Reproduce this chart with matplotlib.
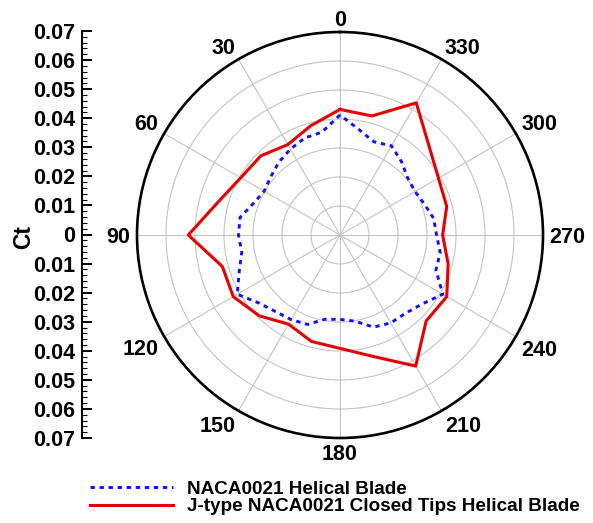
import numpy as np
import matplotlib
matplotlib.use("Agg")
import matplotlib.pyplot as plt
from matplotlib.ticker import MultipleLocator, FuncFormatter
from matplotlib.lines import Line2D

plt.rcParams['font.family'] = ['Liberation Sans', 'DejaVu Sans']
plt.rcParams['font.weight'] = 'bold'

# Data (azimuth in degrees, Ct)
red_angles = [0, 15, 30, 45, 60, 75, 90, 105, 120, 135, 150, 165, 180, 195,
              210, 225, 240, 255, 270, 285, 300, 315, 330, 345, 360]
red_ct = [0.0433, 0.0390, 0.0360, 0.0386, 0.0395, 0.0436, 0.0523, 0.0420,
          0.0425, 0.0394, 0.0355, 0.0380, 0.0391, 0.0433, 0.0522, 0.0420,
          0.0425, 0.0386, 0.0354, 0.0381, 0.0392, 0.0434, 0.0526, 0.0425,
          0.0433]

blue_angles = [0, 10, 20, 30, 40, 50, 60, 70, 80, 90, 100, 110, 120, 130,
               140, 150, 160, 170, 180, 190, 200, 210, 220, 230, 240, 250,
               260, 270, 280, 290, 300, 310, 320, 330, 340, 350, 360]
blue_ct = [0.0414, 0.0360, 0.0356, 0.0342, 0.0328, 0.0312, 0.0302, 0.0318,
           0.0350, 0.0350, 0.0344, 0.0370, 0.0409, 0.0365, 0.0345, 0.0337,
           0.0328, 0.0295, 0.0291, 0.0302, 0.0338, 0.0350, 0.0352, 0.0370,
           0.0409, 0.0352, 0.0351, 0.0333, 0.0328, 0.0310, 0.0299, 0.0305,
           0.0330, 0.0355, 0.0342, 0.0370, 0.0414]

theta_ticks = [0, 30, 60, 90, 120, 150, 180, 210, 240, 270, 300, 330]
r_grid = [0.01, 0.02, 0.03, 0.04, 0.05, 0.06]
r_max = 0.07
series_labels = ["NACA0021 Helical Blade",
                 "J-type NACA0021 Closed Tips Helical Blade"]

W, H = 593, 523
fig = plt.figure(figsize=(W / 100, H / 100), dpi=100)

# polar axes: centre (340,235), radius 203 px
cx, cy, R = 340, 235, 203
ax = fig.add_axes([(cx - R) / W, (H - cy - R) / H, 2 * R / W, 2 * R / H],
                  projection='polar')
ax.set_theta_zero_location('N')
ax.set_theta_direction(1)
ax.set_ylim(0, r_max)
ax.set_yticks(r_grid)
ax.set_yticklabels([])
ax.set_thetagrids(theta_ticks, [''] * len(theta_ticks))
ax.xaxis.set_minor_locator(MultipleLocator(np.deg2rad(5)))
ax.tick_params(axis='x', which='major', direction='in', length=7, width=1.6,
               colors='black')
ax.tick_params(axis='x', which='minor', direction='in', length=4, width=0.8)
ax.tick_params(axis='y', length=0)
ax.grid(True, color='#c4c4c4', linewidth=0.8)
ax.spines['polar'].set_linewidth(1.9)
ax.spines['polar'].set_color('black')

ax.plot(np.deg2rad(blue_angles), blue_ct, color='#1010ff', linewidth=2.1,
        linestyle=(0, (1.5, 1.6)), zorder=3)
ax.plot(np.deg2rad(red_angles), red_ct, color='#e80000', linewidth=2.2,
        zorder=4)

# angle labels, placed outside the rim
ang_texts = []
for t in theta_ticks:
    a = ax.annotate(str(t), xy=(np.deg2rad(t), r_max), xycoords='data',
                    xytext=(0, 0), textcoords='offset pixels',
                    ha='center', va='center_baseline', fontsize=15.5,
                    fontweight='bold', annotation_clip=False)
    ang_texts.append((t, a))

# left Ct axis
ax2 = fig.add_axes([82 / W, (H - 438) / H, 0.0001, (438 - 31) / H])
ax2.set_ylim(-r_max, r_max)
for s in ['top', 'right', 'bottom']:
    ax2.spines[s].set_visible(False)
ax2.spines['left'].set_linewidth(1.4)
ax2.set_xticks([])
ax2.yaxis.set_major_locator(MultipleLocator(0.01))
ax2.yaxis.set_minor_locator(MultipleLocator(0.002))
ax2.yaxis.set_major_formatter(FuncFormatter(
    lambda v, p: '0' if abs(v) < 1e-9 else f'{abs(v):.2f}'))
ax2.tick_params(axis='y', which='major', direction='in', length=7, width=1.4,
                labelsize=15.5, pad=5)
ax2.tick_params(axis='y', which='minor', direction='in', length=3.5, width=0.8)
for lab in ax2.get_yticklabels():
    lab.set_fontweight('bold')
ax2.patch.set_visible(False)

fig.text(24 / W, 1 - 237 / H, 'Ct', rotation=90, ha='center', va='center',
         fontsize=16.5, fontweight='bold')

handles = [Line2D([], [], color='#1010ff', linewidth=2.1,
                  linestyle=(0, (1.5, 1.6))),
           Line2D([], [], color='#e80000', linewidth=2.2)]
leg = fig.legend(handles, series_labels, loc='upper left',
                 bbox_to_anchor=(84 / W, 1 - 475 / H), frameon=False,
                 fontsize=13.6, handlelength=4.4, handletextpad=0.75,
                 labelspacing=0.0, borderaxespad=0, borderpad=0.3)
for t in leg.get_texts():
    t.set_fontweight('bold')

# position angle labels: gap along the ray plus the half box in each sign
fig.canvas.draw()
renderer = fig.canvas.get_renderer()
gap = 6.5
hh = 15.5 * 100 / 72 * 0.72 / 2
for t, a in ang_texts:
    bb = a.get_window_extent(renderer)
    hw = bb.width / 2
    rad = np.deg2rad(t)
    ux, uy = -np.sin(rad), np.cos(rad)
    sx = 0 if abs(ux) < 1e-6 else np.sign(ux)
    sy = 0 if abs(uy) < 1e-6 else np.sign(uy)
    a.xyann = (gap * ux + sx * hw, gap * uy + sy * hh)

fig.savefig('out.png', dpi=100)
